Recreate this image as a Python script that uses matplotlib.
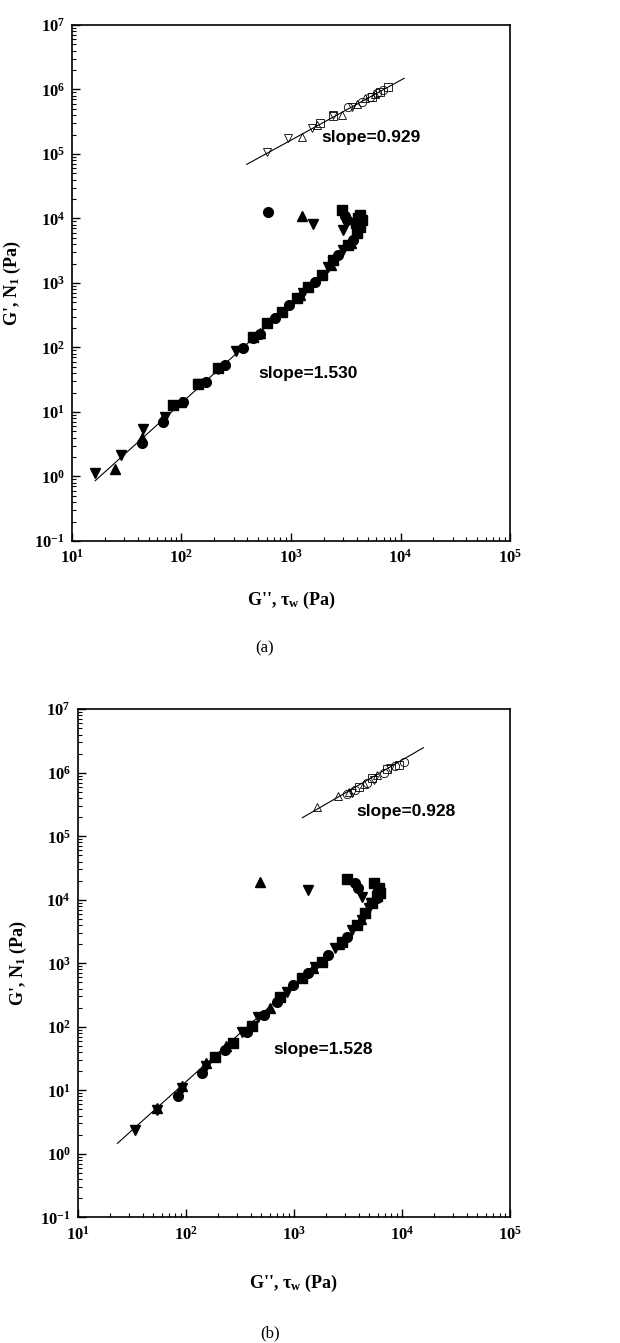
import matplotlib
matplotlib.use("Agg")
import matplotlib.pyplot as plt
from matplotlib.ticker import LogLocator, FixedLocator, NullFormatter

plt.rcParams["font.family"] = ["Liberation Serif", "DejaVu Serif"]
plt.rcParams["font.weight"] = "bold"
plt.rcParams["mathtext.fontset"] = "custom"
plt.rcParams["mathtext.rm"] = "Liberation Serif:bold"
plt.rcParams["mathtext.it"] = "Liberation Serif:italic:bold"
plt.rcParams["mathtext.bf"] = "Liberation Serif:bold"

# ---------------- panel (a) ----------------
# filled symbols: N1 vs tau_w
a_sq_x = [83, 141, 217, 453, 600, 822, 1127, 1439, 1905, 2432, 3334, 3981, 4266, 4426, 4266, 2904, 4100, 3900]
a_sq_y = [12.9, 26.9, 48.6, 147, 237, 359, 579, 877, 1330, 2275, 3882, 5888, 7464, 9484, 11320, 13550, 10200, 8400]
a_ci_x = [43.3, 68.2, 104, 167, 249, 366, 447, 521, 714, 966, 1656, 2704, 3707, 3236, 621, 3100]
a_ci_y = [3.27, 7.08, 14.5, 29.5, 53.6, 97.2, 141, 162, 284, 456, 1050, 2716, 4645, 9484, 12760, 11000]
a_up_x = [24.7, 43.7, 68.2, 100, 520, 1200, 2300, 3500, 4074, 1253]
a_up_y = [1.29, 3.98, 7.98, 14.1, 170, 650, 1900, 4200, 8511, 10940]
a_dn_x = [16.2, 27.9, 44.8, 70, 146, 217, 315, 1294, 2193, 3006, 3006, 3981, 1581]
a_dn_y = [1.12, 2.15, 5.4, 8.3, 26.9, 45.7, 89.1, 692, 1791, 3251, 6637, 7079, 8222]
# open symbols: G' vs G''
a_odn_x = [600, 944, 1545, 2432, 3573]
a_odn_y = [1.06e5, 1.75e5, 2.56e5, 4.03e5, 5.42e5]
a_oup_x = [1253, 1718, 2904, 3981, 4742, 5848]
a_oup_y = [1.85e5, 2.81e5, 4.03e5, 5.97e5, 7.31e5, 8.43e5]
a_oci_x = [3334, 4416, 5260, 6053, 6966]
a_oci_y = [5.30e5, 6.49e5, 7.57e5, 8.93e5, 9.82e5]
a_osq_x = [1841, 2432, 5458, 6501, 7745]
a_osq_y = [3.06e5, 3.88e5, 7.74e5, 9.27e5, 1.08e6]
# fitted lines (end points)
a_fit_hi_x = [394, 10800]
a_fit_hi_y = [6.9e4, 1.49e6]
a_fit_lo_x = [16.3, 900]
a_fit_lo_y = [0.86, 398]

# ---------------- panel (b) ----------------
b_sq_x = [187, 276, 414, 746, 1186, 1816, 2780, 3828, 4571, 5272, 6310, 6081, 5458, 3097, 5900, 6200]
b_sq_y = [33.9, 55, 103, 298, 581, 1059, 2188, 4009, 6124, 8810, 12650, 15170, 18200, 21280, 11500, 13800]
b_ci_x = [84.3, 141, 231, 367, 524, 697, 991, 1365, 2089, 3097, 5875, 3698, 3963, 6000]
b_ci_y = [8.13, 18.9, 43.2, 83.8, 153, 248, 455, 697, 1352, 2624, 10570, 18200, 15170, 14000]
b_up_x = [53.8, 91.8, 154, 236, 604, 1500, 2600, 4200, 488]
b_up_y = [5.21, 11.7, 26.6, 49.9, 195, 850, 2000, 5000, 18880]
b_dn_x = [33.9, 53.8, 91.8, 154, 330, 470, 861, 1574, 2410, 3443, 4266, 4909, 4266, 1365, 5200]
b_dn_y = [2.37, 4.9, 11.0, 24.5, 83.8, 144, 357, 883, 1722, 3342, 4808, 7345, 11190, 14260, 9000]
b_oup_x = [1633, 2535, 3206, 4416, 5861]
b_oup_y = [2.92e5, 4.31e5, 5.04e5, 6.65e5, 9.23e5]
b_oci_x = [3097, 3698, 4742, 6761, 8670, 10350]
b_oci_y = [4.63e5, 5.36e5, 6.82e5, 9.79e5, 1.28e6, 1.50e6]
b_osq_x = [3972, 5272, 7261, 9311]
b_osq_y = [5.90e5, 8.18e5, 1.14e6, 1.32e6]
b_odn_x = [3443, 5458, 7798]
b_odn_y = [4.86e5, 7.71e5, 1.18e6]
b_fit_hi_x = [1200, 15800]
b_fit_hi_y = [1.96e5, 2.48e6]
b_fit_lo_x = [23.3, 1000]
b_fit_lo_y = [1.46, 457]

xticks = [1e1, 1e2, 1e3, 1e4, 1e5]
xlabels = ["$10^{1}$", "$10^{2}$", "$10^{3}$", "$10^{4}$", "$10^{5}$"]
yticks = [1e-1, 1e0, 1e1, 1e2, 1e3, 1e4, 1e5, 1e6, 1e7]
ylabels = ["$10^{-1}$", "$10^{0}$", "$10^{1}$", "$10^{2}$", "$10^{3}$",
           "$10^{4}$", "$10^{5}$", "$10^{6}$", "$10^{7}$"]


def draw_panel(ax, filled, opened, fits, slopes, xpad):
    ax.set_xscale("log")
    ax.set_yscale("log")
    for fx, fy in fits:
        ax.plot(fx, fy, color="black", lw=0.8, zorder=1)
    for (x, y), m in zip(filled, ["s", "o", "^", "v"]):
        ax.plot(x, y, ls="none", marker=m, ms=7, mfc="black", mec="black", zorder=3)
    for (x, y), m in zip(opened, ["v", "^", "o", "s"]):
        ax.plot(x, y, ls="none", marker=m, ms=6, mfc="none", mec="black",
                mew=0.6, zorder=3)
    for (tx, ty, s) in slopes:
        ax.text(tx, ty, s, family="Liberation Sans", weight="bold", fontsize=12.5,
                ha="left", va="center")
    ax.set_xlim(1e1, 1e5)
    ax.set_ylim(1e-1, 1e7)
    ax.xaxis.set_major_locator(FixedLocator(xticks))
    ax.set_xticklabels(xlabels)
    ax.yaxis.set_major_locator(FixedLocator(yticks))
    ax.set_yticklabels(ylabels)
    ax.xaxis.set_minor_locator(LogLocator(base=10, subs=range(2, 10), numticks=20))
    ax.yaxis.set_minor_locator(LogLocator(base=10, subs=range(2, 10), numticks=20))
    ax.xaxis.set_minor_formatter(NullFormatter())
    ax.yaxis.set_minor_formatter(NullFormatter())
    ax.tick_params(which="both", direction="in", top=False, right=False, labelsize=12)
    ax.tick_params(axis="x", which="major", pad=6)
    ax.tick_params(axis="y", which="major", pad=5)
    ax.tick_params(which="major", length=6, width=1)
    ax.tick_params(which="minor", length=3, width=0.8)
    for sp in ax.spines.values():
        sp.set_linewidth(1.2)
    ax.set_xlabel("G'', τ$_{\\mathrm{w}}$ (Pa)", fontsize=13, weight="bold", labelpad=xpad)
    ax.set_ylabel("G', N$_{\\mathrm{1}}$ (Pa)", fontsize=13, weight="bold", labelpad=8)


fig = plt.figure(figsize=(6.2, 13.43), dpi=100)
ax_a = fig.add_axes([0.1161, 0.5972, 0.7065, 0.3842])
ax_b = fig.add_axes([0.1253, 0.0936, 0.6973, 0.3783])

draw_panel(
    ax_a,
    [(a_sq_x, a_sq_y), (a_ci_x, a_ci_y), (a_up_x, a_up_y), (a_dn_x, a_dn_y)],
    [(a_odn_x, a_odn_y), (a_oup_x, a_oup_y), (a_oci_x, a_oci_y), (a_osq_x, a_osq_y)],
    [(a_fit_hi_x, a_fit_hi_y), (a_fit_lo_x, a_fit_lo_y)],
    [(1905, 1.77e5, "slope=0.929"), (502, 39.8, "slope=1.530")],
    16,
)
draw_panel(
    ax_b,
    [(b_sq_x, b_sq_y), (b_ci_x, b_ci_y), (b_up_x, b_up_y), (b_dn_x, b_dn_y)],
    [(b_odn_x, b_odn_y), (b_oup_x, b_oup_y), (b_oci_x, b_oci_y), (b_osq_x, b_osq_y)],
    [(b_fit_hi_x, b_fit_hi_y), (b_fit_lo_x, b_fit_lo_y)],
    [(3828, 2.44e5, "slope=0.928"), (647, 44.3, "slope=1.528")],
    21,
)

fig.text(265 / 620, 1 - 648 / 1343, "(a)", fontsize=12, weight="normal",
         ha="center", va="center")
fig.text(270 / 620, 1 - 1333 / 1343, "(b)", fontsize=12, weight="normal",
         ha="center", va="center")

fig.savefig("out.png", dpi=100)
